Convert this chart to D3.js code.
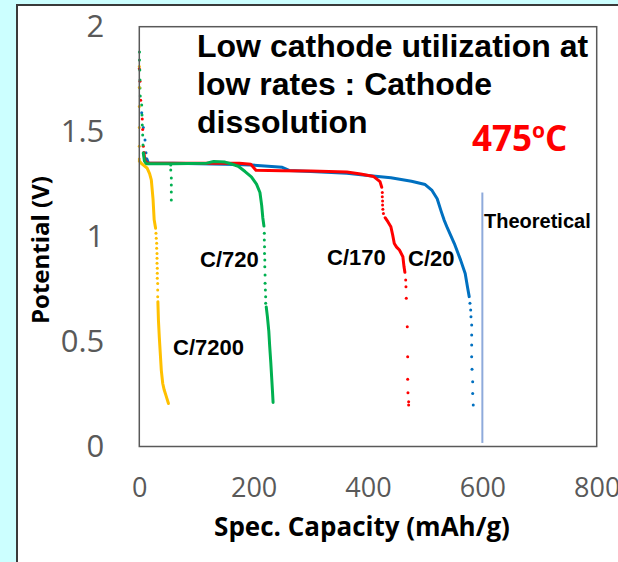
<!DOCTYPE html>
<html>
<head>
<meta charset="utf-8">
<script src="https://cdn.jsdelivr.net/npm/d3@7"></script>
<style>
  html, body { margin: 0; padding: 0; background: #ccffff; }
  svg { display: block; }
</style>
</head>
<body>
<svg id="chart" width="618" height="562"></svg>
<script>
// axis ticks
const xTicks = [0, 200, 400, 600, 800];
const yTicks = [0, 0.5, 1, 1.5, 2];
const yTickLabels = ["0", "0.5", "1", "1.5", "2"];

// C/20 (blue) - [capacity mAh/g, potential V]
const c20Spike = [[4.2, 1.59], [7, 1.52], [10, 1.46], [11.7, 1.40], [12.9, 1.37]];
const c20Line = [[13, 1.37], [16, 1.35], [60, 1.35], [150, 1.345], [196, 1.341], [250, 1.33], [262, 1.315],
  [300, 1.31], [363, 1.302], [404, 1.29], [440, 1.28], [476, 1.264], [500, 1.248], [512, 1.22], [521, 1.18],
  [528, 1.12], [533, 1.08], [539, 1.04], [551, 0.967], [562, 0.888], [570, 0.824], [574, 0.76], [577, 0.714]];
const c20Tail = [[578.3, 0.682], [579.6, 0.65], [580.1, 0.618], [581.3, 0.579], [581.3, 0.531], [581.3, 0.484],
  [581.3, 0.428], [581.9, 0.368], [583.1, 0.309], [583.1, 0.253], [584.1, 0.198]];

// C/170 (red)
const c170Spike = [[0, 1.80], [1.2, 1.74], [2.4, 1.65], [5.2, 1.56], [5.9, 1.51], [7, 1.43], [8.2, 1.40]];
const c170Line = [[8, 1.40], [10, 1.36], [14, 1.35], [100, 1.35], [175, 1.35], [195, 1.345], [204, 1.316],
  [250, 1.314], [300, 1.312], [363, 1.308], [387, 1.298], [410, 1.286], [421, 1.262], [424, 1.235]];
const c170Mid = [[425, 1.21], [425, 1.19], [425.5, 1.17], [425.5, 1.15], [426, 1.13], [427, 1.11]];
const c170Line2 = [[430, 1.09], [435, 1.07], [440, 1.047], [443, 1.01], [446, 0.967], [450, 0.95], [455, 0.936],
  [461, 0.904], [463, 0.856], [464.5, 0.83]];
const c170Tail = [[465.9, 0.793], [466.4, 0.761], [467, 0.706], [468.7, 0.571], [469.4, 0.428], [469.4, 0.32],
  [469.9, 0.256], [471.1, 0.213], [471.1, 0.198]];

// C/720 (green)
const c720Spike = [[0.3, 1.879], [0.3, 1.841], [0.9, 1.794], [1.2, 1.746], [1.2, 1.708], [1.7, 1.67], [4.2, 1.627],
  [4.7, 1.579], [5.2, 1.532], [5.9, 1.484], [6.5, 1.436], [7, 1.398]];
const c720Line = [[7, 1.398], [9, 1.36], [12, 1.347], [60, 1.347], [118, 1.35], [130, 1.358], [150, 1.355],
  [160, 1.347], [173, 1.335], [185, 1.31], [196, 1.285], [205, 1.25], [211, 1.21], [214, 1.15], [216, 1.09], [218, 1.05]];
const c720Blip = [[55, 1.341], [55, 1.317], [56, 1.279], [56, 1.246], [56, 1.212], [56, 1.174]];
const c720Mid = [[218.7, 1.016], [218.7, 0.984], [219, 0.952], [219, 0.92], [219.5, 0.888], [219.5, 0.856],
  [220, 0.817], [220, 0.778], [220.5, 0.746], [221, 0.714], [221, 0.682]];
const c720Line2 = [[222, 0.665], [224, 0.62], [226.5, 0.55], [228, 0.48], [230, 0.40], [231.5, 0.33], [233, 0.26], [234, 0.21]];

// C/7200 (yellow)
const c7200Spike = [[0, 1.81], [0, 1.71], [0, 1.62], [0, 1.52], [0, 1.43], [0, 1.37]];
const c7200Line = [[0, 1.36], [5, 1.345], [13.5, 1.327], [18, 1.30], [21, 1.27], [24, 1.18], [26, 1.08], [28.5, 1.04]];
const c7200Mid = [[29.2, 1.016], [29.7, 0.992], [30.4, 0.968], [30.4, 0.944], [31, 0.92], [31, 0.897], [31, 0.873],
  [31.5, 0.849], [31.5, 0.825], [31.5, 0.801], [32.2, 0.777], [32.2, 0.746], [32.2, 0.714]];
const c7200Line2 = [[32.5, 0.69], [33.5, 0.60], [35, 0.52], [37, 0.43], [38.5, 0.363], [41, 0.30], [43.5, 0.27], [47, 0.24], [51, 0.205]];

const theoretical = 600;

const series = [
  { name: "C/20", color: "#0070c0", lines: [c20Line], dots: [c20Spike, c20Tail] },
  { name: "C/170", color: "#ff0000", lines: [c170Line, c170Line2], dots: [c170Spike, c170Mid, c170Tail] },
  { name: "C/720", color: "#00b050", lines: [c720Line, c720Line2], dots: [c720Spike, c720Blip, c720Mid] },
  { name: "C/7200", color: "#ffc000", lines: [c7200Line, c7200Line2], dots: [c7200Spike, c7200Mid] }
];

const svg = d3.select("#chart");

// white panel
svg.append("rect")
  .attr("x", 17).attr("y", 5)
  .attr("width", 640).attr("height", 600)
  .style("fill", "#ffffff")
  .style("stroke", "#3a3a3a")
  .style("stroke-width", 2);

const x = d3.scaleLinear().domain([0, 800]).range([139.3, 596.7]);
const y = d3.scaleLinear().domain([0, 2]).range([446.5, 26.7]);

const tickFont = "'Open Sans', sans-serif";

const xAxis = svg.append("g")
  .attr("transform", `translate(0,${y(0)})`)
  .call(d3.axisBottom(x).tickValues(xTicks).tickFormat(d3.format("d")).tickSize(0).tickPadding(31));
xAxis.select(".domain").remove();
xAxis.selectAll("text")
  .style("font-family", tickFont).style("font-size", "27px").style("fill", "#595959");

const yAxis = svg.append("g")
  .attr("transform", `translate(${x(0)},0)`)
  .call(d3.axisLeft(y).tickValues(yTicks).tickFormat((d, i) => yTickLabels[i]).tickSize(0).tickPadding(35));
yAxis.select(".domain").remove();
yAxis.selectAll("text")
  .style("font-family", tickFont).style("font-size", "31px").style("fill", "#595959");

// theoretical capacity line
svg.append("line")
  .attr("x1", x(theoretical)).attr("x2", x(theoretical))
  .attr("y1", y(1.21)).attr("y2", y(0.017))
  .style("stroke", "#8eaadb")
  .style("stroke-width", 2);

const line = d3.line().x(d => x(d[0])).y(d => y(d[1]));

series.forEach(s => {
  s.lines.forEach(pts => {
    svg.append("path")
      .datum(pts)
      .attr("d", line)
      .style("fill", "none")
      .style("stroke", s.color)
      .style("stroke-width", 3)
      .style("stroke-linejoin", "round")
      .style("stroke-linecap", "round");
  });
  s.dots.forEach(pts => {
    svg.append("g").selectAll("circle")
      .data(pts)
      .enter()
      .append("circle")
      .attr("cx", d => x(d[0]))
      .attr("cy", d => y(d[1]))
      .attr("r", 1.5)
      .style("fill", s.color);
  });
});

// plot box
svg.append("rect")
  .attr("x", x(0)).attr("y", y(2))
  .attr("width", x(800) - x(0)).attr("height", y(0) - y(2))
  .style("fill", "none")
  .style("stroke", "#595959")
  .style("stroke-width", 1.5);

// axis titles
svg.append("text")
  .attr("transform", `translate(49,250) rotate(-90)`)
  .attr("text-anchor", "middle")
  .style("font-family", tickFont).style("font-weight", "bold").style("font-size", "24px")
  .text("Potential (V)");

svg.append("text")
  .attr("x", 362).attr("y", 536)
  .attr("text-anchor", "middle")
  .style("font-family", tickFont).style("font-weight", "bold").style("font-size", "26px")
  .text("Spec. Capacity (mAh/g)");

// annotation
const noteLines = ["Low cathode utilization at", "low rates : Cathode", "dissolution"];
svg.append("g").selectAll("text")
  .data(noteLines)
  .enter()
  .append("text")
  .attr("x", 197)
  .attr("y", (d, i) => 56.5 + i * 38.2)
  .style("font-family", "'Liberation Sans', Arial, sans-serif")
  .style("font-weight", "bold").style("font-size", "32px")
  .text(d => d);

const temp = svg.append("text")
  .attr("x", 472).attr("y", 151)
  .style("font-family", tickFont).style("font-weight", "bold").style("font-size", "35px")
  .style("fill", "#ff0000");
temp.append("tspan").text("475");
temp.append("tspan").attr("dy", -13).style("font-size", "21px").text("o");
temp.append("tspan").attr("dy", 13).text("C");

// curve labels
const curveLabels = [
  { text: "C/720", x: 200, y: 266.5 },
  { text: "C/7200", x: 173, y: 355 },
  { text: "C/170", x: 327, y: 264.5 },
  { text: "C/20", x: 408, y: 266 }
];
svg.append("g").selectAll("text")
  .data(curveLabels)
  .enter()
  .append("text")
  .attr("x", d => d.x).attr("y", d => d.y)
  .style("font-family", "'Liberation Sans', Arial, sans-serif")
  .style("font-weight", "bold").style("font-size", "22px")
  .text(d => d.text);

svg.append("text")
  .attr("x", 484).attr("y", 228)
  .style("font-family", "'Liberation Sans', Arial, sans-serif")
  .style("font-weight", "bold").style("font-size", "20px")
  .text("Theoretical");
</script>
</body>
</html>
